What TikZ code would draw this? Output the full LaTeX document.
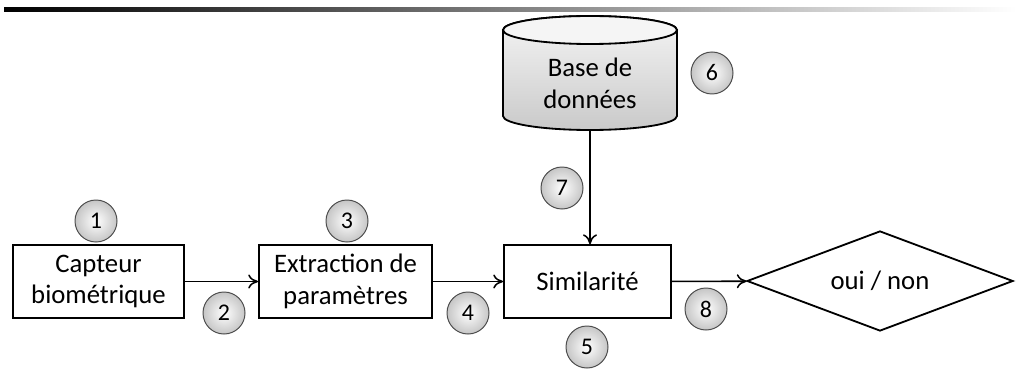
\documentclass[tikz,border=0pt]{standalone}
\usepackage{fontspec}
\setmainfont{Carlito}
\usetikzlibrary{shapes.geometric,arrows.meta}

\begin{document}
\begin{tikzpicture}[x=0.025cm, y=0.025cm,
    bloc/.style={draw=black, line width=1.3pt, fill=white, minimum height=1.82cm, align=center, inner sep=0pt, font=\fontsize{19}{22.7}\selectfont},
    num/.style={circle, draw=black!70, line width=0.7pt, inner color=white, outer color=gray!45, minimum size=1.05cm, inner sep=0pt, font=\fontsize{17}{20}\selectfont},
    fleche/.style={line width=1.1pt, -{To[length=7pt,width=10pt]}}]
    \useasboundingbox (0,0) rectangle (1016,369);
    \shade[left color=black, right color=white] (4,357) rectangle (1016,361);
    \path[draw, line width=1.3pt, top color=gray!8, bottom color=gray!42] (503,339) -- (503,253) arc[start angle=180, end angle=360, x radius=87, y radius=14] -- (677,339) arc[start angle=0, end angle=180, x radius=87, y radius=14] -- cycle;
    \draw[line width=1.3pt, fill=gray!8] (590,339) ellipse [x radius=87, y radius=14];
    \node[align=center, minimum height=2.325cm, inner sep=0pt, font=\fontsize{19}{22.7}\selectfont] (bdd) at (590,285.5) {Base de\\donn\'ees};
    \node[bloc, minimum width=4.275cm] (cap) at (98.5,87.5) {Capteur\\biom\'etrique};
    \node[bloc, minimum width=4.325cm] (ext) at (345.5,87.5) {Extraction de\\param\`etres};
    \node[bloc, minimum width=4.175cm] (sim) at (587.5,87.5) {Similarit\'e};
    \node[draw, diamond, line width=1.3pt, minimum width=6.65cm, minimum height=2.5cm, aspect=2.66, inner sep=0pt, font=\fontsize{19}{22.7}\selectfont] (dec) at (880,88) {oui / non};
    \draw[fleche] (cap) -- (ext);
    \draw[fleche] (ext) -- (sim);
    \draw[fleche] (sim) -- (dec);
    \draw[fleche] (bdd.south) -- (bdd.south |- sim.north);
    \node[num] (n1) at (96,148) {1};
    \node[num] (n2) at (224,56) {2};
    \node[num] (n3) at (347,148) {3};
    \node[num] (n4) at (468,56) {4};
    \node[num] (n5) at (587,22) {5};
    \node[num] (n6) at (712,296) {6};
    \node[num] (n7) at (562,181) {7};
    \node[num] (n8) at (706,60) {8};
\end{tikzpicture}
\end{document}
